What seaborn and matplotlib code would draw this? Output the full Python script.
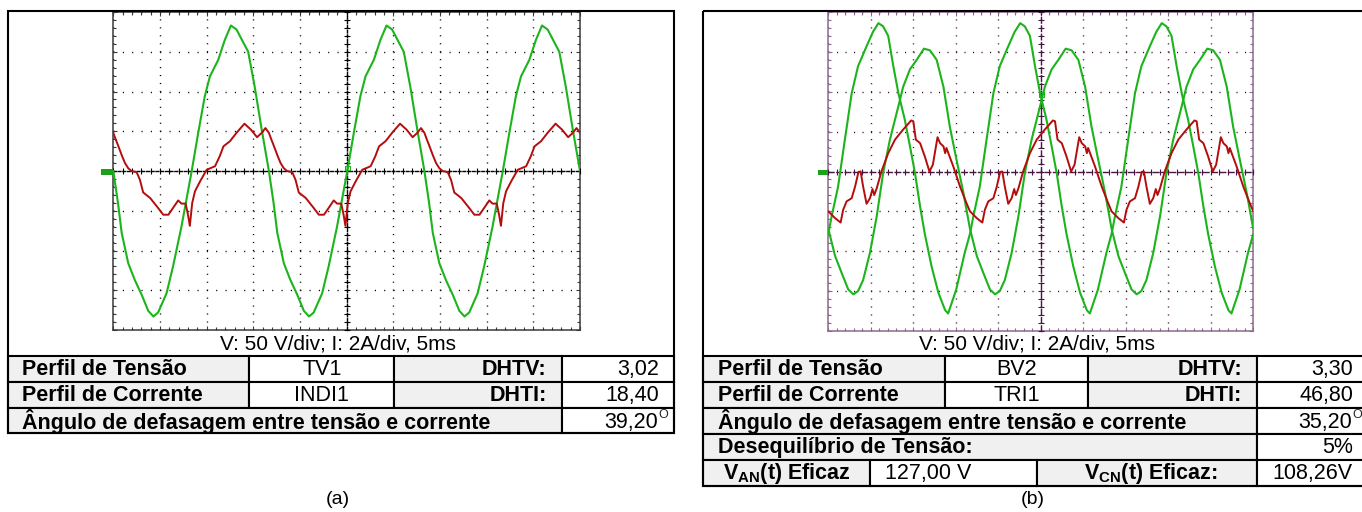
import matplotlib
matplotlib.use("Agg")
import numpy as np
import pandas as pd
import matplotlib.pyplot as plt
import seaborn as sns
from matplotlib.patches import Rectangle
from matplotlib.ticker import MultipleLocator, NullFormatter

# ---------------- DATA ----------------
# time in ms (5 ms/div), voltage in V (50 V/div), current in A (2 A/div)

# Panel (a): voltage TV1
a_volt_t_ms = [0.0, 0.5, 0.9, 1.6, 2.3, 3.05, 3.75, 4.3, 4.8, 5.7, 6.4, 7.3, 8.4, 9.1, 9.8, 10.35, 11.25, 11.95, 12.6, 13.2, 14.45, 15.15, 15.9,
               16.67, 17.17, 17.57, 18.27, 18.97, 19.72, 20.42, 20.97, 21.47, 22.37, 23.07, 23.97, 25.07, 25.77, 26.47, 27.02, 27.92, 28.62, 29.27, 29.87, 31.12, 31.82, 32.57,
               33.33, 33.83, 34.23, 34.93, 35.63, 36.38, 37.08, 37.63, 38.13, 39.03, 39.73, 40.63, 41.73, 42.43, 43.13, 43.68, 44.58, 45.28, 45.93, 46.53, 47.78, 48.48, 49.23,
               50.0]
a_volt_v = [0, -40, -78, -116, -137, -156, -176, -183, -178, -154, -120, -70, 0, 48, 94, 119, 140, 165, 183, 178, 150, 106, 52,
            0, -40, -78, -116, -137, -156, -176, -183, -178, -154, -120, -70, 0, 48, 94, 119, 140, 165, 183, 178, 150, 106, 52,
            0, -40, -78, -116, -137, -156, -176, -183, -178, -154, -120, -70, 0, 48, 94, 119, 140, 165, 183, 178, 150, 106, 52,
            0]

# Panel (a): current INDI1
a_curr_t_ms = [0.0, 0.25, 0.55, 0.9, 1.25, 1.6, 1.95, 2.5, 2.85, 3.2, 3.95, 4.8, 5.35, 5.9, 6.4, 6.95, 7.3, 7.75, 8.0, 8.2, 8.45, 8.75, 9.3, 10.0, 10.9, 11.4, 11.8, 12.5, 13.2, 14.05, 14.75, 15.4, 15.9, 16.3,
               16.67, 16.92, 17.22, 17.57, 17.92, 18.27, 18.62, 19.17, 19.52, 19.87, 20.62, 21.47, 22.02, 22.57, 23.07, 23.62, 23.97, 24.42, 24.67, 24.87, 25.12, 25.42, 25.97, 26.67, 27.57, 28.07, 28.47, 29.17, 29.87, 30.72, 31.42, 32.07, 32.57, 32.97,
               33.33, 33.58, 33.88, 34.23, 34.58, 34.93, 35.28, 35.83, 36.18, 36.53, 37.28, 38.13, 38.68, 39.23, 39.73, 40.28, 40.63, 41.08, 41.33, 41.53, 41.78, 42.08, 42.63, 43.33, 44.23, 44.73, 45.13, 45.83, 46.53, 47.38, 48.08, 48.73, 49.23, 49.63,
               50.0]
a_curr_a = [1.92, 1.60, 1.24, 0.80, 0.40, 0.14, 0.0, -0.06, -0.44, -1.08, -1.36, -1.86, -2.20, -2.20, -1.86, -1.48, -1.64, -1.64, -2.20, -2.76, -1.62, -1.02, -0.52, 0.06, 0.24, 0.74, 1.24, 1.50, 1.92, 2.38, 2.08, 1.70, 1.92, 2.16,
            1.92, 1.60, 1.24, 0.80, 0.40, 0.14, 0.0, -0.06, -0.44, -1.08, -1.36, -1.86, -2.20, -2.20, -1.86, -1.48, -1.64, -1.64, -2.20, -2.76, -1.62, -1.02, -0.52, 0.06, 0.24, 0.74, 1.24, 1.50, 1.92, 2.38, 2.08, 1.70, 1.92, 2.16,
            1.92, 1.60, 1.24, 0.80, 0.40, 0.14, 0.0, -0.06, -0.44, -1.08, -1.36, -1.86, -2.20, -2.20, -1.86, -1.48, -1.64, -1.64, -2.20, -2.76, -1.62, -1.02, -0.52, 0.06, 0.24, 0.74, 1.24, 1.50, 1.92, 2.38, 2.08, 1.70, 1.92, 2.16,
            1.92]

# Panel (b): voltage V_AN
b_van_t_ms = [0.0, 0.4, 1.15, 1.95, 2.75, 3.5, 4.5, 5.25, 5.9, 6.45, 7.05, 7.65, 8.25, 9.0, 9.6, 10.2, 10.8, 11.35, 12.15, 12.95, 13.75, 14.1, 15.05, 16.05,
              16.67, 17.07, 17.82, 18.62, 19.42, 20.17, 21.17, 21.92, 22.57, 23.12, 23.72, 24.32, 24.92, 25.67, 26.27, 26.87, 27.47, 28.02, 28.82, 29.62, 30.42, 30.77, 31.72, 32.72,
              33.33, 33.73, 34.48, 35.28, 36.08, 36.83, 37.83, 38.58, 39.23, 39.78, 40.38, 40.98, 41.58, 42.33, 42.93, 43.53, 44.13, 44.68, 45.48, 46.28, 47.08, 47.43, 48.38, 49.38,
              50.0]
b_van_v = [-78, -56, -19, 40, 98, 132, 157, 175, 186, 182, 170, 132, 98, 65, 32, -2, -44, -78, -119, -152, -174, -178, -148, -102,
           -78, -56, -19, 40, 98, 132, 157, 175, 186, 182, 170, 132, 98, 65, 32, -2, -44, -78, -119, -152, -174, -178, -148, -102,
           -78, -56, -19, 40, 98, 132, 157, 175, 186, 182, 170, 132, 98, 65, 32, -2, -44, -78, -119, -152, -174, -178, -148, -102,
           -78]

# Panel (b): voltage V_CN
b_vcn_t_ms = [0.0, 0.8, 1.6, 2.35, 2.95, 3.5, 4.1, 4.9, 5.7, 6.45, 7.25, 8.25, 8.8, 9.6, 10.4, 11.25, 11.95, 12.75, 13.55, 14.3, 15.1, 15.9,
              16.67, 17.47, 18.27, 19.02, 19.62, 20.17, 20.77, 21.57, 22.37, 23.12, 23.92, 24.92, 25.47, 26.27, 27.07, 27.92, 28.62, 29.42, 30.22, 30.97, 31.77, 32.57,
              33.33, 34.13, 34.93, 35.68, 36.28, 36.83, 37.43, 38.23, 39.03, 39.78, 40.58, 41.58, 42.13, 42.93, 43.73, 44.58, 45.28, 46.08, 46.88, 47.63, 48.43, 49.23,
              50.0]
b_vcn_v = [-72, -106, -128, -148, -154, -150, -136, -102, -56, -2, 40, 82, 106, 128, 140, 154, 152, 140, 106, 56, 14, -27,
           -72, -106, -128, -148, -154, -150, -136, -102, -56, -2, 40, 82, 106, 128, 140, 154, 152, 140, 106, 56, 14, -27,
           -72, -106, -128, -148, -154, -150, -136, -102, -56, -2, 40, 82, 106, 128, 140, 154, 152, 140, 106, 56, 14, -27,
           -72]

# Panel (b): current TRI1
b_curr_t_ms = [0.0, 0.8, 1.45, 1.75, 2.15, 2.75, 3.15, 3.55, 3.8, 4.1, 4.5, 4.9, 5.2, 5.4, 5.7, 6.25, 7.05, 7.85, 8.8, 9.75, 10.0, 10.3, 10.8, 11.35, 11.9, 12.3, 12.85, 13.15, 13.55, 13.75, 13.9, 14.7, 15.5, 16.25,
               16.67, 17.47, 18.12, 18.42, 18.82, 19.42, 19.82, 20.22, 20.47, 20.77, 21.17, 21.57, 21.87, 22.07, 22.37, 22.92, 23.72, 24.52, 25.47, 26.42, 26.67, 26.97, 27.47, 28.02, 28.57, 28.97, 29.52, 29.82, 30.22, 30.42, 30.57, 31.37, 32.17, 32.92,
               33.33, 34.13, 34.78, 35.08, 35.48, 36.08, 36.48, 36.88, 37.13, 37.43, 37.83, 38.23, 38.53, 38.73, 39.03, 39.58, 40.38, 41.18, 42.13, 43.08, 43.33, 43.63, 44.13, 44.68, 45.23, 45.63, 46.18, 46.48, 46.88, 47.08, 47.23, 48.03, 48.83, 49.58,
               50.0]
b_curr_a = [-2.00, -2.34, -2.56, -1.92, -1.50, -1.34, -0.76, -0.02, 0.00, -0.76, -1.62, -1.34, -0.88, -1.18, -0.84, 0.00, 0.92, 1.60, 2.10, 2.56, 2.52, 1.60, 1.42, 0.76, 0.00, 0.34, 1.72, 1.42, 1.26, 0.92, 1.18, 0.26, -0.76, -1.58,
            -2.00, -2.34, -2.56, -1.92, -1.50, -1.34, -0.76, -0.02, 0.00, -0.76, -1.62, -1.34, -0.88, -1.18, -0.84, 0.00, 0.92, 1.60, 2.10, 2.56, 2.52, 1.60, 1.42, 0.76, 0.00, 0.34, 1.72, 1.42, 1.26, 0.92, 1.18, 0.26, -0.76, -1.58,
            -2.00, -2.34, -2.56, -1.92, -1.50, -1.34, -0.76, -0.02, 0.00, -0.76, -1.62, -1.34, -0.88, -1.18, -0.84, 0.00, 0.92, 1.60, 2.10, 2.56, 2.52, 1.60, 1.42, 0.76, 0.00, 0.34, 1.72, 1.42, 1.26, 0.92, 1.18, 0.26, -0.76, -1.58,
            -2.00]

# Table texts
caption = "V: 50 V/div; I: 2A/div, 5ms"
row_labels = ["Perfil de Tensão", "Perfil de Corrente"]
dht_labels = ["DHTV:", "DHTI:"]
angle_label = "Ângulo de defasagem entre tensão e corrente"
a_profiles = ["TV1", "INDI1"]
a_dht_values = ["3,02", "18,40"]
a_angle = "39,20"
b_profiles = ["BV2", "TRI1"]
b_dht_values = ["3,30", "46,80"]
b_angle = "35,20"
b_unbalance_label = "Desequilíbrio de Tensão:"
b_unbalance = "5%"
b_van_label = r"$\mathbf{V}_{\mathbf{AN}}$(t) Eficaz"
b_van_rms = "127,00 V"
b_vcn_label = r"$\mathbf{V}_{\mathbf{CN}}$(t) Eficaz:"
b_vcn_rms = "108,26V"
panel_letters = ["(a)", "(b)"]

# ---------------- STYLE ----------------
sns.set_theme(style="white")
plt.rcParams['font.family'] = ['Liberation Sans', 'DejaVu Sans']
plt.rcParams['mathtext.fontset'] = 'custom'
plt.rcParams['mathtext.rm'] = 'Liberation Sans'
plt.rcParams['mathtext.bf'] = 'Liberation Sans:bold'
plt.rcParams['lines.scale_dashes'] = False

GREEN = '#1cb41c'
RED = '#b30d0d'
GRAY = '#f0f0f0'
FS = 15.5
FS_CAP = 15

W, H = 1362, 512
fig = plt.figure(figsize=(W / 100, H / 100), dpi=100)
fig.patch.set_facecolor('white')

bg = fig.add_axes([0, 0, 1, 1], zorder=0, label='bg')
bg.set_xlim(0, W); bg.set_ylim(H, 0); bg.axis('off')
top = fig.add_axes([0, 0, 1, 1], zorder=10, label='top')
top.set_xlim(0, W); top.set_ylim(H, 0); top.axis('off')


def fig_rect(x0, y0, x1, y1):
    return [x0 / W, 1 - y1 / H, (x1 - x0) / W, (y1 - y0) / H]


def set_locators(ax):
    ax.xaxis.set_major_locator(MultipleLocator(5))
    ax.xaxis.set_minor_locator(MultipleLocator(1))
    ax.yaxis.set_major_locator(MultipleLocator(50))
    ax.yaxis.set_minor_locator(MultipleLocator(10))
    for a in (ax.xaxis, ax.yaxis):
        a.set_major_formatter(NullFormatter())
        a.set_minor_formatter(NullFormatter())


def scope(name, px, frame_col, grid_col, center_col, center_ls, volt_sets, curr_sets):
    x0, y0, x1, y1 = px
    xdiv = (x1 - x0) / 10.0
    ydiv = (y1 - y0) / 8.0
    rect = fig_rect(*px)
    pt = 0.72
    ax = fig.add_axes(rect, zorder=1, label=name + 'grid')
    ax.set_facecolor('white')
    ax.set_xlim(0, 50); ax.set_ylim(-200, 200)
    set_locators(ax)
    ax.tick_params(which='both', direction='in', top=True, right=True, left=True, bottom=True,
                   color=frame_col, width=0.8, labelbottom=False, labelleft=False)
    ax.tick_params(which='major', length=3)
    ax.tick_params(which='minor', length=2.5)
    for s in ax.spines.values():
        s.set_color(frame_col); s.set_linewidth(1.1); s.set_visible(True)
    on = 0.8
    ax.xaxis.grid(True, which='major', color=grid_col, linewidth=1.0,
                  linestyle=(0, (on, ydiv / 5 * pt - on)))
    ax.yaxis.grid(True, which='major', color=grid_col, linewidth=1.0,
                  linestyle=(0, (on, xdiv / 5 * pt - on)))

    axc = fig.add_axes(rect, zorder=2, label=name + 'center')
    axc.set_facecolor('none')
    axc.set_xlim(0, 50); axc.set_ylim(-200, 200)
    set_locators(axc)
    axc.spines['top'].set_visible(False); axc.spines['right'].set_visible(False)
    axc.spines['left'].set_position(('data', 25))
    axc.spines['bottom'].set_position(('data', 0))
    for k in ('left', 'bottom'):
        axc.spines[k].set_color(center_col)
        axc.spines[k].set_linestyle(center_ls)
        axc.spines[k].set_linewidth(1.0)
    axc.tick_params(which='both', direction='inout', length=4, width=0.8, color=center_col,
                    left=True, bottom=True, top=False, right=False, labelleft=False, labelbottom=False)

    axv = fig.add_axes(rect, zorder=3, label=name + 'volt')
    axv.set_facecolor('none')
    for t, v in volt_sets:
        df = pd.DataFrame({'t_ms': t, 'v': v})
        sns.lineplot(data=df, x='t_ms', y='v', ax=axv, color=GREEN, linewidth=1.5,
                     estimator=None, sort=False, legend=False)
    axv.set_xlim(0, 50); axv.set_ylim(-200, 200); axv.axis('off')

    axi = fig.add_axes(rect, zorder=4, label=name + 'curr')
    axi.set_facecolor('none')
    for t, i in curr_sets:
        df = pd.DataFrame({'t_ms': t, 'i': i})
        sns.lineplot(data=df, x='t_ms', y='i', ax=axi, color=RED, linewidth=1.4,
                     estimator=None, sort=False, legend=False)
    axi.set_xlim(0, 50); axi.set_ylim(-8, 8); axi.axis('off')


scope('a', (113.3, 12, 580, 330), '#3a3a3a', '#000000', '#000000', (0, (2.0, 1.4)),
      [(a_volt_t_ms, a_volt_v)], [(a_curr_t_ms, a_curr_a)])
scope('b', (828.3, 12, 1253.3, 331), '#8c6a8c', '#3d0a37', '#4a1444', (0, (4.0, 2.0)),
      [(b_van_t_ms, b_van_v), (b_vcn_t_ms, b_vcn_v)], [(b_curr_t_ms, b_curr_a)])

# channel markers and trigger markers (decorations)
top.add_patch(Rectangle((101, 168.5), 12, 6, facecolor='#1ca01c', edgecolor='none'))
top.add_patch(Rectangle((818, 169.5), 10, 5, facecolor='#1ca01c', edgecolor='none'))
top.add_patch(Rectangle((345.3, 165.5), 4.5, 4.5, facecolor='none', edgecolor=GREEN, lw=0.8))
top.add_patch(Rectangle((1039, 92), 4.5, 5, facecolor='none', edgecolor=GREEN, lw=0.8))

# outer boxes
LW = 1.5
top.add_patch(Rectangle((8, 11), 674 - 8, 433.3 - 11, facecolor='none', edgecolor='black', lw=LW))
top.add_patch(Rectangle((703, 11), 1370 - 703, 485.7 - 11, facecolor='none', edgecolor='black', lw=LW))


def cell(x0, y0, x1, y1, fill):
    bg.add_patch(Rectangle((x0, y0), x1 - x0, y1 - y0, facecolor=fill, edgecolor='black', lw=LW, zorder=1))


def txt(x, y, s, ha='left', bold=False, size=FS):
    bg.text(x, y, s, ha=ha, va='center', fontsize=size,
            fontweight='bold' if bold else 'normal', color='black', zorder=3)


def degree_value(x_right, yc, value):
    txt(x_right - 12, yc + 1, value, ha='right')
    bg.text(x_right - 12, yc - 6.5, "O", ha='left', va='center', fontsize=9, zorder=3)


# captions
txt(338, 344, caption, ha='center', size=FS_CAP)
txt(1037, 344, caption, ha='center', size=FS_CAP)

# ---- table (a)
ra = [355.7, 381.7, 407.5, 433.3]
ca = [8, 249.3, 394.3, 561.7, 674]
for r in range(2):
    y0, y1 = ra[r], ra[r + 1]
    yc = (y0 + y1) / 2 + 1
    cell(ca[0], y0, ca[1], y1, GRAY); cell(ca[1], y0, ca[2], y1, 'white')
    cell(ca[2], y0, ca[3], y1, GRAY); cell(ca[3], y0, ca[4], y1, 'white')
    txt(ca[0] + 14, yc, row_labels[r], bold=True)
    txt((ca[1] + ca[2]) / 2, yc, a_profiles[r], ha='center')
    txt(ca[3] - 15, yc, dht_labels[r], ha='right', bold=True)
    txt(ca[4] - 15, yc, a_dht_values[r], ha='right')
y0, y1 = ra[2], ra[3]
yc = (y0 + y1) / 2 + 1
cell(ca[0], y0, ca[3], y1, GRAY); cell(ca[3], y0, ca[4], y1, 'white')
txt(ca[0] + 14, yc, angle_label, bold=True)
degree_value(ca[4] - 4, yc, a_angle)

# ---- table (b)
rb = [355.7, 381.7, 407.7, 433.7, 459.7, 485.7]
cb = [703, 945, 1088, 1257, 1370]
for r in range(2):
    y0, y1 = rb[r], rb[r + 1]
    yc = (y0 + y1) / 2 + 1
    cell(cb[0], y0, cb[1], y1, GRAY); cell(cb[1], y0, cb[2], y1, 'white')
    cell(cb[2], y0, cb[3], y1, GRAY); cell(cb[3], y0, cb[4], y1, 'white')
    txt(cb[0] + 15, yc, row_labels[r], bold=True)
    txt((cb[1] + cb[2]) / 2, yc, b_profiles[r], ha='center')
    txt(cb[3] - 15, yc, dht_labels[r], ha='right', bold=True)
    txt(1353, yc, b_dht_values[r], ha='right')
y0, y1 = rb[2], rb[3]
yc = (y0 + y1) / 2 + 1
cell(cb[0], y0, cb[3], y1, GRAY); cell(cb[3], y0, cb[4], y1, 'white')
txt(cb[0] + 15, yc, angle_label, bold=True)
degree_value(1364, yc, b_angle)
y0, y1 = rb[3], rb[4]
yc = (y0 + y1) / 2 + 1
cell(cb[0], y0, cb[3], y1, GRAY); cell(cb[3], y0, cb[4], y1, 'white')
txt(cb[0] + 15, yc, b_unbalance_label, bold=True)
txt(1353, yc, b_unbalance, ha='right')
y0, y1 = rb[4], rb[5]
yc = (y0 + y1) / 2 + 1
c5 = [703, 870, 1037, 1257, 1370]
cell(c5[0], y0, c5[1], y1, GRAY); cell(c5[1], y0, c5[2], y1, 'white')
cell(c5[2], y0, c5[3], y1, GRAY); cell(c5[3], y0, c5[4], y1, 'white')
txt((c5[0] + c5[1]) / 2, yc, b_van_label, ha='center', bold=True)
txt(885, yc, b_van_rms, ha='left')
txt((c5[2] + c5[3]) / 2 + 4, yc, b_vcn_label, ha='center', bold=True)
txt(1353, yc, b_vcn_rms, ha='right')

# panel letters
txt(338, 499, panel_letters[0], ha='center', size=14)
txt(1033, 500, panel_letters[1], ha='center', size=14)

fig.savefig('out.png', dpi=100, facecolor='white')
